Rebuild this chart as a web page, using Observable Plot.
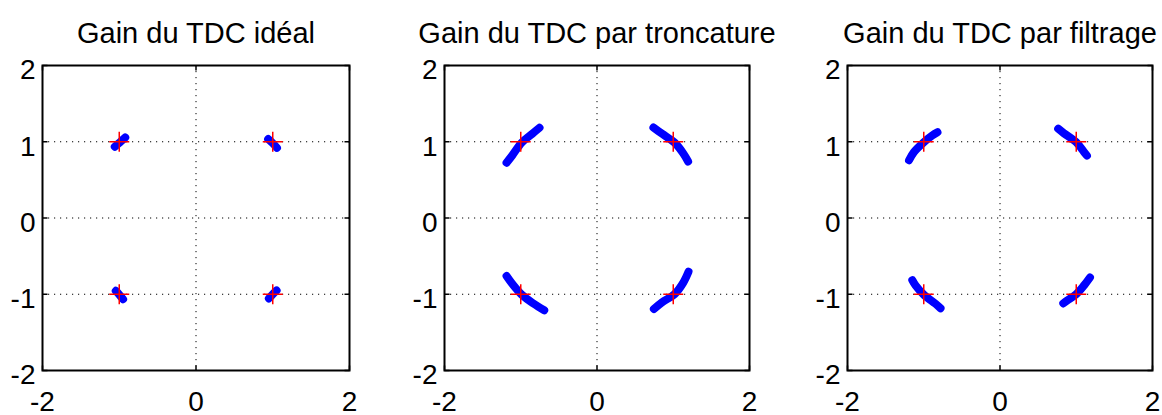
<!DOCTYPE html>
<html><head><meta charset="utf-8">
<script src="https://cdn.jsdelivr.net/npm/d3@7"></script>
<script src="https://cdn.jsdelivr.net/npm/@observablehq/plot@0.6"></script>
<style>
body{margin:0;background:#fff;}
#wrap{position:relative;width:1162px;height:415px;overflow:hidden;}
.panel{position:absolute;top:0;}
</style></head><body><div id="wrap"></div>
<script>
const titles = ["Gain du TDC idéal", "Gain du TDC par troncature", "Gain du TDC par filtrage"];
const xTicks = [-2, 0, 2];
const yTicks = [-2, -1, 0, 1, 2];
const xGrid = [0];
const yGrid = [-1, 0, 1];
const refPoints = [[-1, 1], [1, 1], [-1, -1], [1, -1]];

// received symbols, [x, y, cluster]
const arcsIdeal = [
  [-1.058, 0.935, "UL"], [-0.99, 0.995, "UL"], [-0.922, 1.056, "UL"],
  [0.94, 1.035, "UR"], [1.0, 0.98, "UR"], [1.055, 0.92, "UR"],
  [-1.045, -0.955, "LL"], [-0.995, -1.01, "LL"], [-0.95, -1.065, "LL"],
  [0.95, -1.055, "LR"], [1.0, -1.0, "LR"], [1.05, -0.95, "LR"]
];
const arcsTroncature = [
  [-1.186, 0.725, "UL"], [-1.112, 0.820, "UL"], [-0.986, 0.990, "UL"], [-0.850, 1.104, "UL"], [-0.754, 1.184, "UL"],
  [0.740, 1.187, "UR"], [0.855, 1.104, "UR"], [1.016, 0.990, "UR"], [1.130, 0.850, "UR"], [1.195, 0.741, "UR"],
  [-1.186, -0.761, "LL"], [-1.112, -0.863, "LL"], [-0.986, -1.007, "LL"], [-0.829, -1.125, "LL"], [-0.692, -1.210, "LL"],
  [0.746, -1.193, "LR"], [0.855, -1.104, "LR"], [1.016, -1.000, "LR"], [1.130, -0.850, "LR"], [1.200, -0.705, "LR"]
];
const arcsFiltrage = [
  [-1.193, 0.758, "UL"], [-1.130, 0.863, "UL"], [-0.999, 0.994, "UL"], [-0.889, 1.082, "UL"], [-0.820, 1.124, "UL"],
  [0.763, 1.171, "UR"], [0.837, 1.112, "UR"], [0.999, 0.994, "UR"], [1.099, 0.870, "UR"], [1.140, 0.818, "UR"],
  [-1.150, -0.816, "LL"], [-1.108, -0.885, "LL"], [-0.999, -1.007, "LL"], [-0.846, -1.125, "LL"], [-0.780, -1.183, "LL"],
  [0.830, -1.120, "LR"], [0.881, -1.082, "LR"], [0.999, -1.000, "LR"], [1.105, -0.880, "LR"], [1.180, -0.780, "LR"]
];

const panels = [
  {title: titles[0], arcs: arcsIdeal, left: 0, frameW: 307, mr: 14},
  {title: titles[1], arcs: arcsTroncature, left: 402, frameW: 305, mr: 14},
  {title: titles[2], arcs: arcsFiltrage, left: 805, frameW: 305, mr: 10}
];

const seg = (dx, dy) => ({draw(ctx) { ctx.moveTo(0, 0); ctx.lineTo(dx, dy); }});
const plus = {draw(ctx) { ctx.moveTo(-10, 0); ctx.lineTo(10, 0); ctx.moveTo(0, -10); ctx.lineTo(0, 10); }};
const TL = 5;
const fmt = d => String(d);

const wrap = document.getElementById("wrap");
for (const p of panels) {
  const ml = 42;
  const chart = Plot.plot({
    width: ml + p.frameW + p.mr,
    height: 415,
    marginLeft: ml, marginRight: p.mr, marginTop: 65, marginBottom: 45,
    style: {fontFamily: "'Liberation Sans', Arial, Helvetica, sans-serif", fontSize: "28px", color: "black", background: "white", overflow: "visible"},
    x: {domain: [-2, 2], label: null},
    y: {domain: [-2, 2], label: null},
    marks: [
      Plot.ruleY(yGrid, {stroke: "black", strokeWidth: 1, strokeDasharray: "1.2,4.8"}),
      Plot.ruleX(xGrid, {stroke: "black", strokeWidth: 1, strokeDasharray: "1.2,4.8"}),
      Plot.line(p.arcs, {x: d => d[0], y: d => d[1], z: d => d[2], stroke: "#0000ff", strokeWidth: 8, strokeLinecap: "round", strokeLinejoin: "round", curve: "catmull-rom"}),
      Plot.dot(refPoints, {x: d => d[0], y: d => d[1], r: 1, symbol: plus, stroke: "#ff0000", fill: "none", strokeWidth: 1.5}),
      Plot.frame({stroke: "black", strokeWidth: 2}),
      Plot.dot(yTicks, {x: -2, y: d => d, r: 1, symbol: seg(TL, 0), stroke: "black", fill: "none", strokeWidth: 1.5}),
      Plot.dot(yTicks, {x: 2, y: d => d, r: 1, symbol: seg(-TL, 0), stroke: "black", fill: "none", strokeWidth: 1.5}),
      Plot.dot(xTicks, {x: d => d, y: -2, r: 1, symbol: seg(0, -TL), stroke: "black", fill: "none", strokeWidth: 1.5}),
      Plot.dot(xTicks, {x: d => d, y: 2, r: 1, symbol: seg(0, TL), stroke: "black", fill: "none", strokeWidth: 1.5}),
      Plot.axisX(xTicks, {tickSize: 0, tickPadding: 21, label: null, tickFormat: fmt}),
      Plot.axisY(yTicks, {tickSize: 0, tickPadding: 7, dy: 5, label: null, tickFormat: fmt}),
      Plot.text([p.title], {text: d => d, frameAnchor: "top", lineAnchor: "middle", dy: -32, fontSize: 29})
    ]
  });
  const div = document.createElement("div");
  div.className = "panel";
  div.style.left = p.left + "px";
  div.appendChild(chart);
  wrap.appendChild(div);
}
</script>
</body></html>
